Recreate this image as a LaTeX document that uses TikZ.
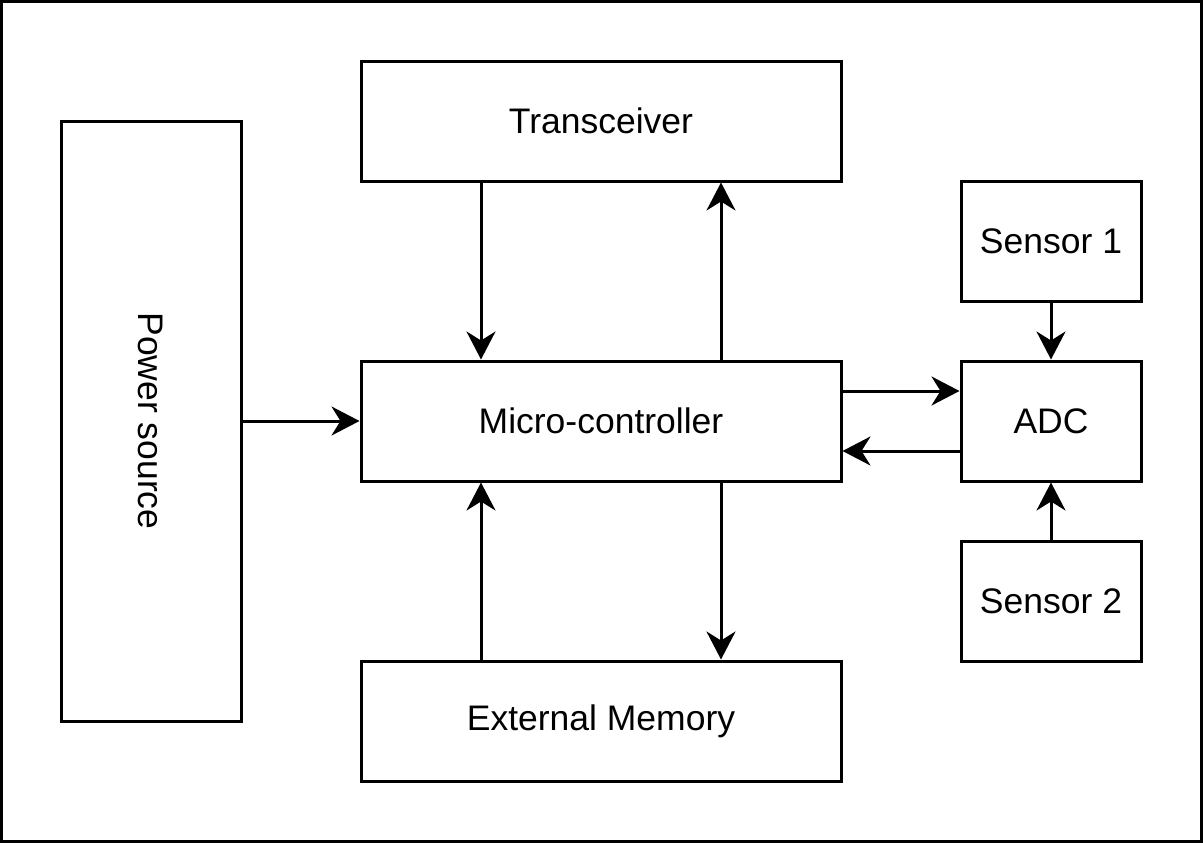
\documentclass[tikz,border=0pt]{standalone}
\usepackage{fontspec}
\setmainfont{Liberation Sans}
\usetikzlibrary{arrows.meta}
\tikzset{
  block/.style={draw,line width=3pt,inner sep=0pt,font=\fontsize{35.5}{40}\selectfont},
  link/.style={line width=3pt,-{Stealth[length=28pt,width=29pt,inset=9pt]}}
}
\begin{document}
\begin{tikzpicture}[x=1pt,y=-1pt]
\useasboundingbox (0,0) rectangle (1203,846);
\draw[line width=3pt] (1.5,1.5) rectangle (1201,841);
% blocks
\node[block,rotate=-90,minimum width=600pt,minimum height=180pt] (power) at (151,421) {Power source};
\node[block,minimum width=480pt,minimum height=120pt] (trx) at (601,121) {Transceiver};
\node[block,minimum width=480pt,minimum height=120pt] (mcu) at (601,421) {Micro-controller};
\node[block,minimum width=480pt,minimum height=120pt] (mem) at (601,721) {External Memory};
\node[block,minimum width=180pt,minimum height=120pt] (sens1) at (1051,241) {Sensor 1};
\node[block,minimum width=180pt,minimum height=120pt] (adc) at (1051,421) {ADC};
\node[block,minimum width=180pt,minimum height=120pt] (sens2) at (1051,601) {Sensor 2};
% connections
\draw[link] (power.north) -- (mcu.west);
\draw[link] ([xshift=-120pt]trx.south) -- ([xshift=-120pt]mcu.north);
\draw[link] ([xshift=120pt]mcu.north) -- ([xshift=120pt]trx.south);
\draw[link] ([xshift=-120pt]mem.north) -- ([xshift=-120pt]mcu.south);
\draw[link] ([xshift=120pt]mcu.south) -- ([xshift=120pt]mem.north);
\draw[link] ([yshift=30pt]mcu.east) -- ([yshift=30pt]adc.west);
\draw[link] ([yshift=-30pt]adc.west) -- ([yshift=-30pt]mcu.east);
\draw[link] (sens1.south) -- (adc.north);
\draw[link] (sens2.north) -- (adc.south);
\end{tikzpicture}
\end{document}
